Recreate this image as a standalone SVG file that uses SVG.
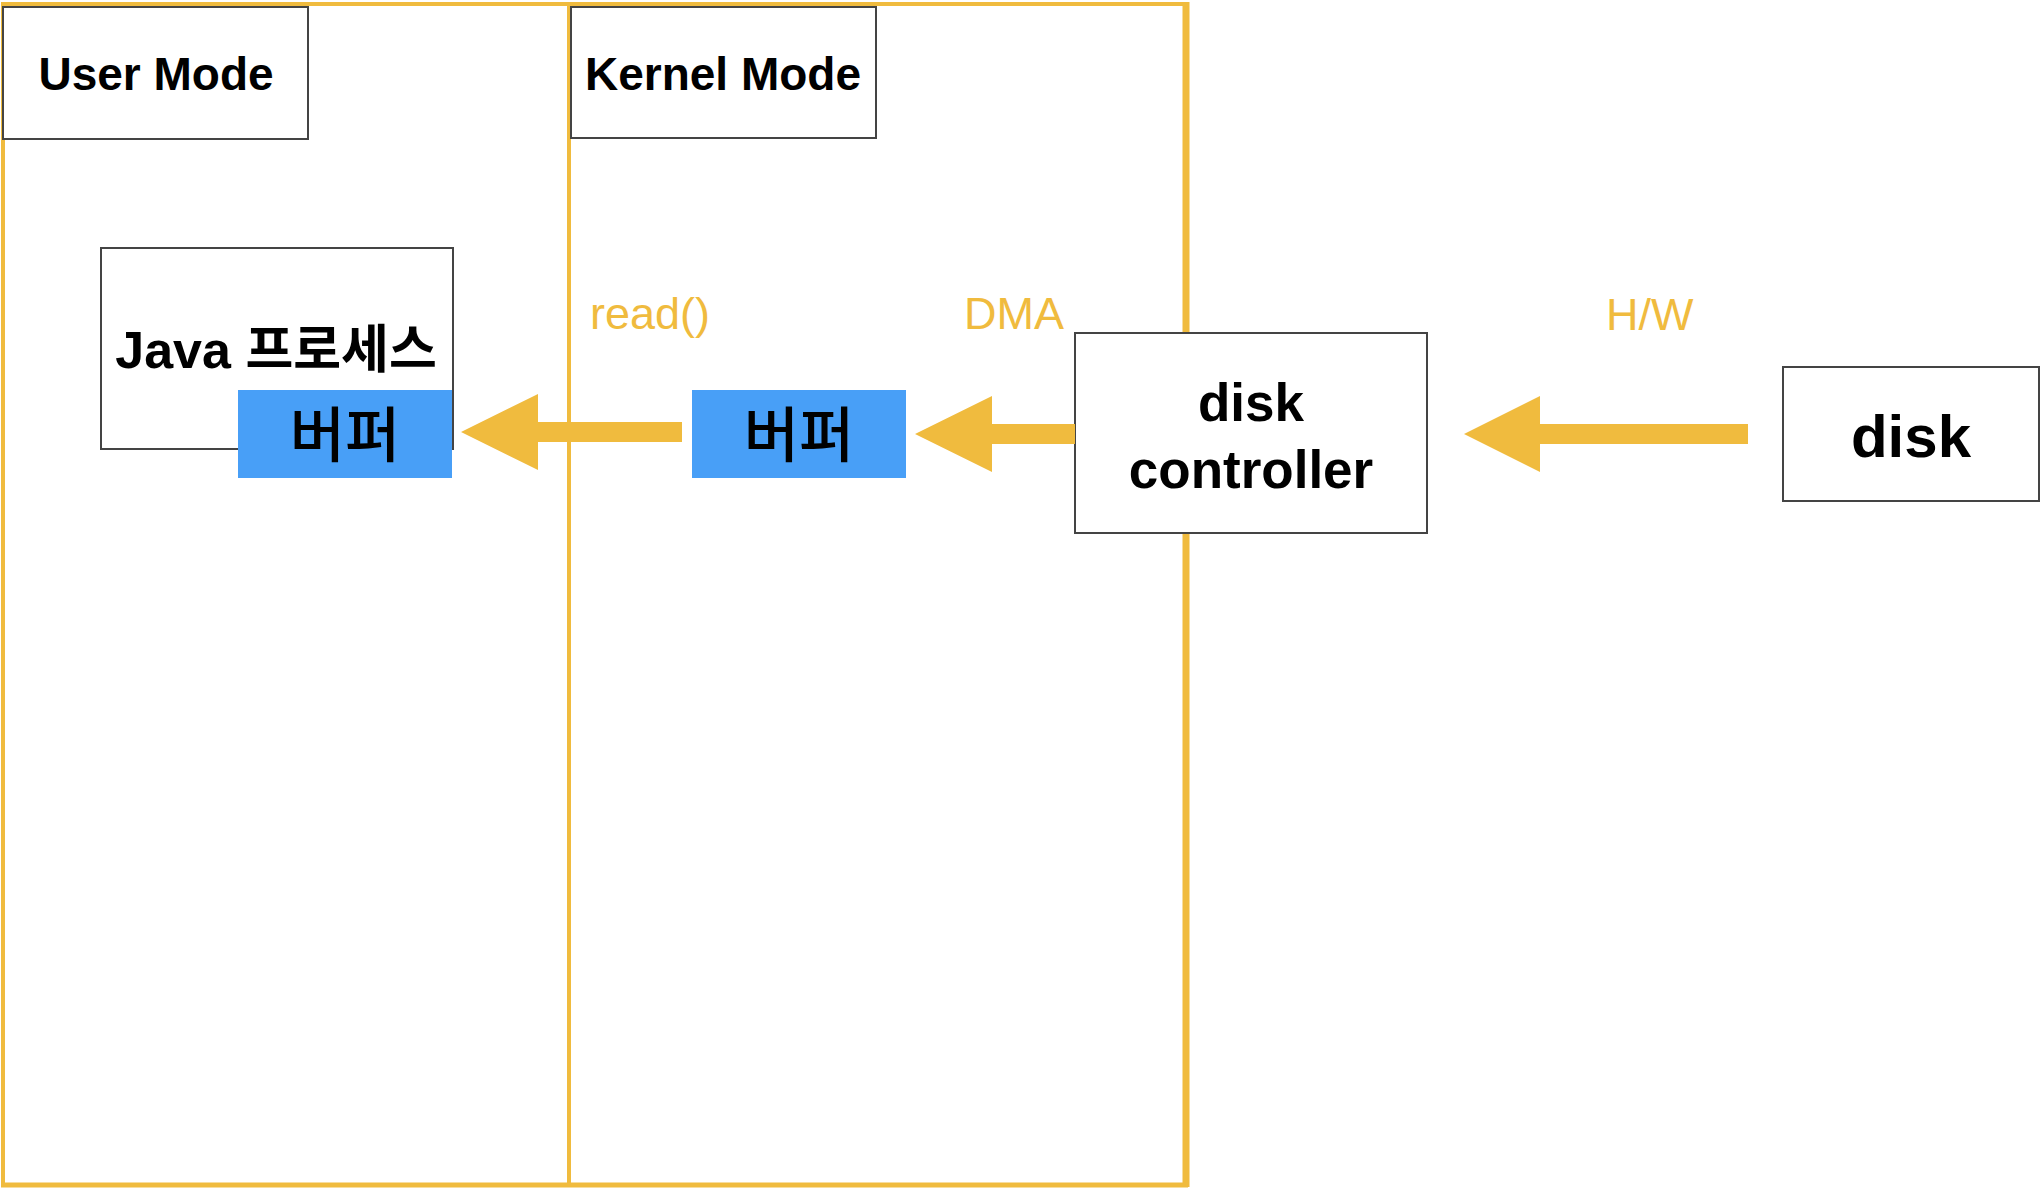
<svg xmlns="http://www.w3.org/2000/svg" width="2042" height="1188" viewBox="0 0 2042 1188">
<style>
.box{fill:#fff;stroke:#444;stroke-width:2}
.buf{fill:#489FF7}
.lane{fill:none;stroke:#F0BB3E}
.t{font-family:"Liberation Sans",Arial,"Noto Sans CJK KR",sans-serif;font-weight:bold;fill:#000;text-anchor:middle}
.k{font-family:"Noto Sans CJK KR","Liberation Sans",sans-serif;font-weight:500;fill:#000;text-anchor:middle}
.lbl{font-family:"Liberation Sans",Arial,sans-serif;fill:#F0BB3E;font-size:45px}
.arrow{fill:#F0BB3E}
</style>
<rect width="2042" height="1188" fill="#fff"/>
<g id="lanes">
<rect class="lane" x="3" y="4" width="566" height="1181" stroke-width="4"/>
<rect class="lane" x="569" y="4" width="617" height="1181" stroke-width="4"/>
<line class="lane" x1="1186" y1="2" x2="1186" y2="1187" stroke-width="7"/>
<line class="lane" x1="1" y1="1185" x2="1188" y2="1185" stroke-width="5"/>
<line class="lane" x1="569" y1="4" x2="569" y2="1185" stroke-width="3"/>
</g>
<g id="user-mode">
<rect class="box" x="3" y="7" width="305" height="132"/>
<text class="t" x="156" y="90" font-size="46">User Mode</text>
</g>
<g id="kernel-mode">
<rect class="box" x="571" y="7" width="305" height="131"/>
<text class="t" x="723" y="90" font-size="46">Kernel Mode</text>
</g>
<g id="java-process">
<rect class="box" x="101" y="248" width="352" height="201"/>
<text class="t" x="276" y="368" font-size="52">Java <tspan font-family="'Noto Sans CJK KR',sans-serif" font-weight="bold">프로세스</tspan></text>
</g>
<g id="user-buffer">
<rect class="buf" x="238" y="390" width="214" height="88"/>
<text class="k" x="345" y="457" font-size="60">버퍼</text>
</g>
<g id="kernel-buffer">
<rect class="buf" x="692" y="390" width="214" height="88"/>
<text class="k" x="799" y="457" font-size="60">버퍼</text>
</g>
<g id="disk-controller">
<rect class="box" x="1075" y="333" width="352" height="200"/>
<text class="t" x="1251" y="421" font-size="53">disk</text>
<text class="t" x="1251" y="488" font-size="53">controller</text>
</g>
<g id="disk">
<rect class="box" x="1783" y="367" width="256" height="134"/>
<text class="t" x="1911" y="457" font-size="60">disk</text>
</g>
<g id="connectors">
<polygon class="arrow" points="461,432 538,394 538,422 682,422 682,442 538,442 538,470"/>
<polygon class="arrow" points="915,434 992,396 992,424 1075,424 1075,444 992,444 992,472"/>
<polygon class="arrow" points="1464,434 1540,396 1540,424 1748,424 1748,444 1540,444 1540,472"/>
<text class="lbl" x="590" y="329">read()</text>
<text class="lbl" x="964" y="329">DMA</text>
<text class="lbl" x="1606" y="330">H/W</text>
</g>
</svg>
